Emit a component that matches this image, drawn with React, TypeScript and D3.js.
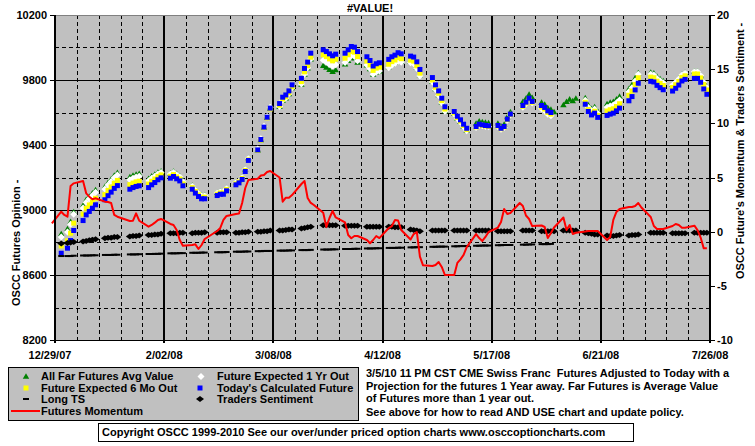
import React from "react";
import * as d3 from "d3";

const _ = null;

// Monday of each week (categories); each series row holds Mon..Fri values
const weekStarts = [
  "2007-12-24", "2007-12-31", "2008-01-07", "2008-01-14", "2008-01-21", "2008-01-28",
  "2008-02-04", "2008-02-11", "2008-02-18", "2008-02-25", "2008-03-03", "2008-03-10",
  "2008-03-17", "2008-03-24", "2008-03-31", "2008-04-07", "2008-04-14", "2008-04-21",
  "2008-04-28", "2008-05-05", "2008-05-12", "2008-05-19", "2008-05-26", "2008-06-02",
  "2008-06-09", "2008-06-16", "2008-06-23", "2008-06-30", "2008-07-07", "2008-07-14",
  "2008-07-21",
];

const todaysCalculated = [
  [_, _, _, _, _],
  [8734, _, 8765, 8812, 8874],
  [8935, 8970, 8991, 9011, 9032],
  [9063, 9088, 9110, 9133, 9150],
  [_, 9128, 9138, 9145, 9149],
  [9138, 9155, 9169, 9186, 9198],
  [9196, 9206, 9192, 9179, 9149],
  [9128, 9104, 9083, 9069, 9069],
  [_, 9089, 9097, 9097, 9118],
  [9155, 9167, 9188, 9237, 9305],
  [9370, 9434, 9510, 9571, 9627],
  [9655, 9694, 9708, 9733, 9770],
  [9810, 9871, 9910, 9965, _],
  [9986, 9975, 9961, 9949, 9959],
  [9965, 9986, 10006, 10002, 9975],
  [9943, 9920, 9886, 9900, 9906],
  [9927, 9943, 9953, 9968, 9961],
  [9947, 9941, 9912, 9865, _],
  [9815, 9770, 9733, 9688, 9635],
  [9606, 9577, 9555, 9528, 9503],
  [9514, 9528, 9524, 9520, 9518],
  [9520, 9503, 9514, 9559, 9590],
  [_, 9643, 9664, 9688, 9668],
  [9643, 9631, 9610, 9600, _],
  [_, _, _, _, _],
  [9651, 9606, 9585, 9596, 9570],
  [9582, 9590, 9596, 9610, 9627],
  [9672, 9698, 9739, 9780, _],
  [9792, 9788, 9767, 9753, 9740],
  [9732, 9749, 9769, 9794, 9804],
  [9810, 9810, 9786, 9745, 9712],
];

const expected6Mo = [
  [_, _, _, _, _],
  [8779, _, 8810, 8857, 8919],
  [8975, 9010, 9031, 9051, 9072],
  [9095, 9120, 9142, 9165, 9182],
  [_, 9156, 9166, 9173, 9177],
  [9160, 9177, 9191, 9207, 9216],
  [9208, 9218, 9204, 9191, 9161],
  [9138, 9114, 9093, 9079, 9079],
  [_, 9097, 9105, 9105, 9126],
  [9161, 9173, 9194, 9243, 9308],
  [9367, 9431, 9506, 9567, 9622],
  [9645, 9683, 9697, 9722, 9758],
  [9790, 9850, 9888, 9940, _],
  [9955, 9944, 9930, 9918, 9928],
  [9934, 9955, 9975, 9971, 9944],
  [9916, 9893, 9859, 9873, 9879],
  [9897, 9913, 9923, 9938, 9931],
  [9922, 9916, 9887, 9842, _],
  [9800, 9755, 9718, 9673, 9621],
  [9598, 9569, 9547, 9520, 9495],
  [9511, 9525, 9521, 9517, 9515],
  [9517, 9500, 9511, 9556, 9587],
  [_, 9638, 9659, 9683, 9663],
  [9633, 9621, 9600, 9590, _],
  [_, _, _, _, _],
  [9663, 9618, 9597, 9608, 9582],
  [9609, 9617, 9623, 9637, 9654],
  [9706, 9732, 9773, 9814, _],
  [9818, 9814, 9793, 9779, 9766],
  [9754, 9771, 9791, 9816, 9826],
  [9837, 9837, 9813, 9772, 9739],
];

const expected1Yr = [
  [_, _, _, _, _],
  [8834, _, 8865, 8912, 8974],
  [9013, 9048, 9069, 9089, 9110],
  [9129, 9154, 9176, 9199, 9216],
  [_, 9186, 9196, 9203, 9207],
  [9180, 9195, 9207, 9221, 9231],
  [9221, 9231, 9217, 9204, 9174],
  [9146, 9122, 9101, 9087, 9087],
  [_, 9104, 9112, 9112, 9133],
  [9167, 9179, 9200, 9249, 9317],
  [9375, 9439, 9515, 9576, 9632],
  [9637, 9676, 9690, 9715, 9752],
  [9775, 9836, 9875, 9930, _],
  [9921, 9910, 9896, 9884, 9894],
  [9908, 9929, 9949, 9945, 9918],
  [9893, 9870, 9836, 9850, 9856],
  [9875, 9891, 9901, 9916, 9909],
  [9906, 9900, 9871, 9824, _],
  [9787, 9742, 9705, 9660, 9607],
  [9591, 9562, 9540, 9513, 9488],
  [9508, 9522, 9518, 9514, 9512],
  [9514, 9497, 9508, 9553, 9584],
  [_, 9633, 9654, 9678, 9658],
  [9623, 9611, 9590, 9580, _],
  [_, _, _, _, _],
  [9676, 9631, 9610, 9621, 9595],
  [9632, 9640, 9646, 9660, 9677],
  [9727, 9753, 9794, 9835, _],
  [9835, 9831, 9810, 9796, 9783],
  [9769, 9786, 9806, 9831, 9841],
  [9851, 9851, 9827, 9786, 9753],
];

const farFuturesAvg = [
  [_, _, _, _, _],
  [8850, _, 8880, 8925, 8985],
  [9025, 9060, 9080, 9100, 9120],
  [9140, 9165, 9186, 9210, 9226],
  [_, 9200, 9210, 9216, 9220],
  [9190, 9205, 9216, 9228, 9235],
  [9224, 9234, 9220, 9207, 9177],
  [9148, 9124, 9103, 9089, 9089],
  [_, 9104, 9112, 9112, 9133],
  [9167, 9179, 9200, 9249, 9317],
  [9365, 9429, 9505, 9566, 9622],
  [9633, 9672, 9686, 9711, 9748],
  [9770, 9831, 9870, 9925, _],
  [9886, 9875, 9861, 9849, 9859],
  [9895, 9916, 9936, 9932, 9905],
  [9888, 9865, 9831, 9845, 9851],
  [9877, 9893, 9903, 9918, 9911],
  [9910, 9904, 9875, 9828, _],
  [9787, 9742, 9705, 9660, 9607],
  [9591, 9562, 9540, 9513, 9488],
  [9529, 9543, 9539, 9535, 9533],
  [9530, 9513, 9524, 9569, 9600],
  [_, 9663, 9684, 9708, 9688],
  [9658, 9646, 9625, 9615, 9600],
  [9643, 9663, 9678, 9668, 9684],
  [9686, 9641, 9620, 9631, 9605],
  [9650, 9658, 9664, 9678, 9695],
  [9742, 9768, 9809, 9840, _],
  [9843, 9839, 9818, 9804, 9791],
  [9769, 9786, 9806, 9831, 9841],
  [9851, 9851, 9827, 9786, 9753],
];

const longTS = [
  [_, _, _, _, _],
  [-2.25, _, -2.25, -2.25, -2.22],
  [-2.2, -2.2, -2.2, -2.18, -2.18],
  [-2.15, -2.15, -2.15, -2.13, -2.13],
  [_, -2.1, -2.1, -2.1, -2.08],
  [-2.06, -2.06, -2.05, -2.05, -2.03],
  [-2.0, -2.0, -2.0, -1.98, -1.98],
  [-1.95, -1.95, -1.95, -1.93, -1.93],
  [_, -1.9, -1.9, -1.9, -1.88],
  [-1.85, -1.85, -1.85, -1.83, -1.83],
  [-1.8, -1.8, -1.78, -1.78, -1.78],
  [-1.75, -1.75, -1.75, -1.73, -1.73],
  [-1.7, -1.7, -1.7, -1.68, _],
  [-1.65, -1.65, -1.65, -1.63, -1.63],
  [-1.6, -1.6, -1.6, -1.58, -1.58],
  [-1.55, -1.55, -1.55, -1.53, -1.53],
  [-1.5, -1.5, -1.5, -1.48, -1.48],
  [-1.45, -1.45, -1.43, -1.43, _],
  [-1.4, -1.4, -1.38, -1.38, -1.38],
  [-1.35, -1.35, -1.33, -1.33, -1.33],
  [-1.3, -1.3, -1.28, -1.28, -1.28],
  [-1.25, -1.25, -1.23, -1.23, -1.23],
  [_, -1.2, -1.2, -1.18, -1.18],
  [-1.15, -1.15, -1.15, -1.13, _],
  [_, _, _, _, _], [_, _, _, _, _], [_, _, _, _, _], [_, _, _, _, _],
  [_, _, _, _, _], [_, _, _, _, _], [_, _, _, _, _],
];

const tradersSentiment = [
  [_, _, _, _, _],
  [-1.1, _, -1.05, -1.0, -0.95],
  [-0.9, -0.85, -0.8, -0.75, -0.7],
  [-0.6, -0.55, -0.55, -0.5, -0.5],
  [_, -0.45, -0.4, -0.4, -0.35],
  [-0.3, -0.3, -0.25, -0.25, -0.2],
  [-0.15, -0.15, -0.15, -0.1, -0.1],
  [-0.15, -0.1, -0.1, -0.1, -0.05],
  [_, -0.1, -0.05, -0.05, -0.05],
  [-0.1, -0.1, -0.05, -0.05, 0.0],
  [0.0, 0.0, 0.05, 0.05, 0.1],
  [0.1, 0.1, 0.15, 0.2, 0.2],
  [0.3, 0.35, 0.4, 0.45, _],
  [0.6, 0.6, 0.6, 0.6, 0.6],
  [0.55, 0.55, 0.55, 0.55, 0.55],
  [0.45, 0.45, 0.45, 0.45, 0.45],
  [0.45, 0.45, 0.4, 0.4, 0.4],
  [0.2, 0.15, 0.1, 0.05, _],
  [0.1, 0.1, 0.1, 0.1, 0.1],
  [0.1, 0.1, 0.1, 0.1, 0.1],
  [0.1, 0.1, 0.1, 0.1, 0.1],
  [0.05, 0.05, 0.05, 0.05, 0.05],
  [_, 0.1, 0.1, 0.1, 0.1],
  [0.05, 0.05, 0.05, 0.05, 0.05],
  [0.1, 0.1, 0.1, 0.1, 0.1],
  [-0.1, -0.15, -0.2, -0.25, -0.25],
  [-0.35, -0.4, -0.4, -0.35, -0.3],
  [-0.35, -0.3, -0.3, -0.25, _],
  [-0.1, -0.1, -0.1, -0.1, -0.1],
  [-0.15, -0.15, -0.15, -0.15, -0.15],
  [-0.1, -0.1, -0.1, -0.1, -0.1],
];

const futuresMomentum = [
  [_, _, _, _, 0.77],
  [1.84, 1.54, 1.38, 4.22, 4.46],
  [4.68, 3.54, 3.23, 2.99, 3.08],
  [2.77, 2.74, 2.65, 1.54, 1.38],
  [_, 0.98, 1.01, 1.69, 1.01],
  [0.46, 0.62, 0.83, 1.08, 1.17],
  [0.71, 0.62, 0.15, -0.77, -1.29],
  [-1.23, -1.17, -1.6, -1.23, -0.68],
  [-0.12, 0.06, 0.34, 1.08, 1.45],
  [1.63, 1.68, 2.65, 4.03, 4.77],
  [4.89, 5.18, 5.23, 5.51, 5.6],
  [5.0, 2.77, 3.14, 3.14, 3.38],
  [4.4, 4.68, 3.11, 2.65, 2.46],
  [1.75, 0.43, 1.26, 1.91, 1.31],
  [0.85, -0.31, -0.61, -0.4, -0.4],
  [-0.77, -1.07, -0.77, -0.4, -0.59],
  [0.34, 0.52, 1.08, 1.03, 0.15],
  [-0.72, -0.22, -0.03, -2.31, -3.11],
  [-3.17, -3.08, -2.8, -3.26, -4.0],
  [-4.0, -2.89, -2.55, -2.15, -1.42],
  [-0.22, -0.59, -0.86, -0.49, -0.03],
  [0.38, 0.89, 2.09, 1.63, 1.72],
  [2.65, 2.37, 1.49, 1.17, 0.52],
  [0.57, 0.43, -0.59, -0.12, 0.38],
  [1.31, 0.15, 0.62, -0.22, -0.1],
  [0.01, 0.06, 0.06, 0.06, 0.06],
  [-0.77, -0.49, 1.08, 1.82, 2.09],
  [2.28, 2.28, 2.37, 2.65, 2.23],
  [1.35, 0.52, 0.25, 0.25, 0.25],
  [0.52, 0.71, 0.62, 0.37, 0.37],
  [0.55, 0.15, -0.54, -1.54, -1.54],
];

const leftTicks = [8200, 8600, 9000, 9400, 9800, 10200];
const rightTicks = [-10, -5, 0, 5, 10, 15, 20];
const titleText = "#VALUE!";
const leftTitle = "OSCC Futures Opinion -";
const rightTitle = "OSCC Future's Momentum & Traders Sentiment -";
const noteLines = [
  "3/5/10 11 PM CST CME Swiss Franc  Futures Adjusted to Today with a",
  "Projection for the futures 1 Year away. Far Futures is Average Value",
  "of Futures more than 1 year out.",
  "See above for how to read AND USE chart and update policy.",
];
const copyright =
  "Copyright OSCC 1999-2010 See our over/under priced option charts www.osccoptioncharts.com";

const parse = d3.utcParse("%Y-%m-%d");

type Pt = { date: Date; value: number };
function expand(series: (number | null)[][]): Pt[] {
  const pts: Pt[] = [];
  weekStarts.forEach((ws, i) => {
    const base = parse(ws) as Date;
    series[i].forEach((v, j) => {
      if (v != null) pts.push({ date: d3.utcDay.offset(base, j), value: v });
    });
  });
  return pts;
}

const FONT = "'Liberation Sans', Arial, sans-serif";
const SQ = "M-2.5,-2.5h5v5h-5z";
const WDIAM = "M0,-3.5L3.5,0L0,3.5L-3.5,0Z";
const BDIAM = "M0,-3L4,0L0,3L-4,0Z";
const DASH = "M-3,-1h6v2h-6z";
const TRI = d3.symbol(d3.symbolTriangle, 18)() as string;

export default function App() {
  const L = 55, R = 710, T = 15, B = 340;
  const x = d3.scaleUtc().domain([parse("2007-12-29") as Date, parse("2008-07-26") as Date]).range([L, R]);
  const yL = d3.scaleLinear().domain([8200, 10200]).range([B, T]);
  const yR = d3.scaleLinear().domain([-10, 20]).range([B, T]);

  const saturdays = d3.utcSaturday.range(parse("2007-12-29") as Date, d3.utcDay.offset(parse("2008-07-26") as Date, 1));
  const majors = saturdays.filter((_d, i) => i % 5 === 0);
  const minors = saturdays.filter((_d, i) => i % 5 !== 0);
  const hLines = d3.range(8400, 10200, 200);
  const fmt = d3.utcFormat("%-m/%d/%y");

  const green = expand(farFuturesAvg);
  const white = expand(expected1Yr);
  const yellow = expand(expected6Mo);
  const blue = expand(todaysCalculated);
  const lts = expand(longTS);
  const traders = expand(tradersSentiment);
  const mom = expand(futuresMomentum);

  const line = d3.line<Pt>().x((d) => x(d.date)).y((d) => yR(d.value));

  const marks = (pts: Pt[], ys: (v: number) => number, d: string, fill: string) =>
    pts.map((p, i) => (
      <path key={i} d={d} fill={fill} transform={`translate(${x(p.date)},${ys(p.value)})`} />
    ));

  const txt = { fontFamily: FONT, fontWeight: "bold" as const, fontSize: 11, fill: "#000" };

  return (
    <svg width={755} height={446} style={{ position: "absolute", left: 0, top: 0, background: "#fff" }}>
      <rect x={L} y={T} width={R - L} height={B - T} fill="#C0C0C0" />
      {hLines.map((v) => {
        const y = Math.round(yL(v)) + 0.5;
        const dashed = (v - 8200) % 400 !== 0;
        return (
          <line key={v} x1={L} x2={R} y1={y} y2={y} stroke="#000" strokeWidth={1}
            strokeDasharray={dashed ? "4,3" : undefined} shapeRendering="crispEdges" />
        );
      })}
      {minors.map((d, i) => {
        const xx = Math.round(x(d)) + 0.5;
        return (
          <line key={i} x1={xx} x2={xx} y1={T} y2={B} stroke="#000" strokeWidth={1}
            strokeDasharray="4,3" shapeRendering="crispEdges" />
        );
      })}
      {majors.map((d, i) => {
        const xx = Math.round(x(d));
        return (
          <line key={i} x1={xx} x2={xx} y1={T} y2={B + 3} stroke="#000" strokeWidth={2}
            shapeRendering="crispEdges" />
        );
      })}
      <line x1={L} x2={R} y1={T + 0.5} y2={T + 0.5} stroke="#808080" strokeWidth={1} shapeRendering="crispEdges" />

      {marks(green, yL, TRI, "#008000")}
      {marks(white, yL, WDIAM, "#FFFFFF")}
      {marks(yellow, yL, SQ, "#FFFF00")}
      {marks(blue, yL, SQ, "#0000FF")}
      {marks(lts, yR, DASH, "#000")}
      {marks(traders, yR, BDIAM, "#000")}
      <path d={line(mom) as string} fill="none" stroke="#FF0000" strokeWidth={2} strokeLinejoin="round" />

      <line x1={L} x2={L} y1={T} y2={B} stroke="#000" strokeWidth={2} shapeRendering="crispEdges" />
      <line x1={R} x2={R} y1={T} y2={B} stroke="#000" strokeWidth={2} shapeRendering="crispEdges" />
      <line x1={L} x2={R + 1} y1={B + 0.5} y2={B + 0.5} stroke="#000" strokeWidth={1} shapeRendering="crispEdges" />
      {minors.map((d, i) => {
        const xx = Math.round(x(d)) + 0.5;
        return <line key={i} x1={xx} x2={xx} y1={B - 3} y2={B} stroke="#000" shapeRendering="crispEdges" />;
      })}
      {leftTicks.map((v) => {
        const y = Math.round(yL(v)) + 0.5;
        return (
          <g key={v}>
            <line x1={L - 5} x2={L} y1={y} y2={y} stroke="#000" shapeRendering="crispEdges" />
            <text x={47} y={y} dy="0.35em" textAnchor="end" {...txt}>{v}</text>
          </g>
        );
      })}
      {rightTicks.map((v) => {
        const y = Math.round(yR(v)) + 0.5;
        return (
          <g key={v}>
            <line x1={R} x2={R + 5} y1={y} y2={y} stroke="#000" shapeRendering="crispEdges" />
            <text x={717} y={y} dy="0.35em" textAnchor="start" {...txt}>{v}</text>
          </g>
        );
      })}
      {majors.map((d, i) => (
        <text key={i} x={x(d) - (i === 0 ? 5 : 0)} y={355} dy="0.35em" textAnchor="middle" {...txt}>
          {fmt(d)}
        </text>
      ))}

      <text x={370} y={8} dy="0.35em" textAnchor="middle" {...txt}>{titleText}</text>
      <text transform="translate(20,306) rotate(-90)" textAnchor="start" {...txt}>{leftTitle}</text>
      <text transform="translate(744,279) rotate(-90)" textAnchor="start" {...txt}>{rightTitle}</text>

      <rect x={8.5} y={367.5} width={350} height={53} fill="#C0C0C0" stroke="#000" strokeWidth={1} />
      <path d={TRI} fill="#008000" transform="translate(26,377)" />
      <text x={41} y={376} dy="0.35em" {...txt}>All Far Futures Avg Value</text>
      <path d={SQ} fill="#FFFF00" transform="translate(26,388)" />
      <text x={41} y={388} dy="0.35em" {...txt}>Future Expected 6 Mo Out</text>
      <path d={DASH} fill="#000" transform="translate(26,399)" />
      <text x={41} y={399.5} dy="0.35em" {...txt}>Long TS</text>
      <line x1={11} x2={40} y1={411} y2={411} stroke="#FF0000" strokeWidth={2} />
      <text x={41} y={411} dy="0.35em" {...txt}>Futures Momentum</text>
      <path d={WDIAM} fill="#FFFFFF" transform="translate(201,376.5)" />
      <text x={217} y={376} dy="0.35em" {...txt}>Future Expected 1 Yr Out</text>
      <path d={SQ} fill="#0000FF" transform="translate(200,388)" />
      <text x={217} y={388} dy="0.35em" {...txt}>Today's Calculated Future</text>
      <path d={BDIAM} fill="#000" transform="translate(200,399)" />
      <text x={217} y={399.5} dy="0.35em" {...txt}>Traders Sentiment</text>

      {noteLines.map((s, i) => (
        <text key={i} x={366} y={[373, 386, 398.5, 412][i]} dy="0.35em" {...txt} style={{ whiteSpace: "pre" }}>
          {s}
        </text>
      ))}

      <rect x={98.5} y={423.5} width={535} height={18} fill="#fff" stroke="#000" strokeWidth={1} />
      <text x={102} y={432} dy="0.35em" {...txt}>{copyright}</text>
    </svg>
  );
}
